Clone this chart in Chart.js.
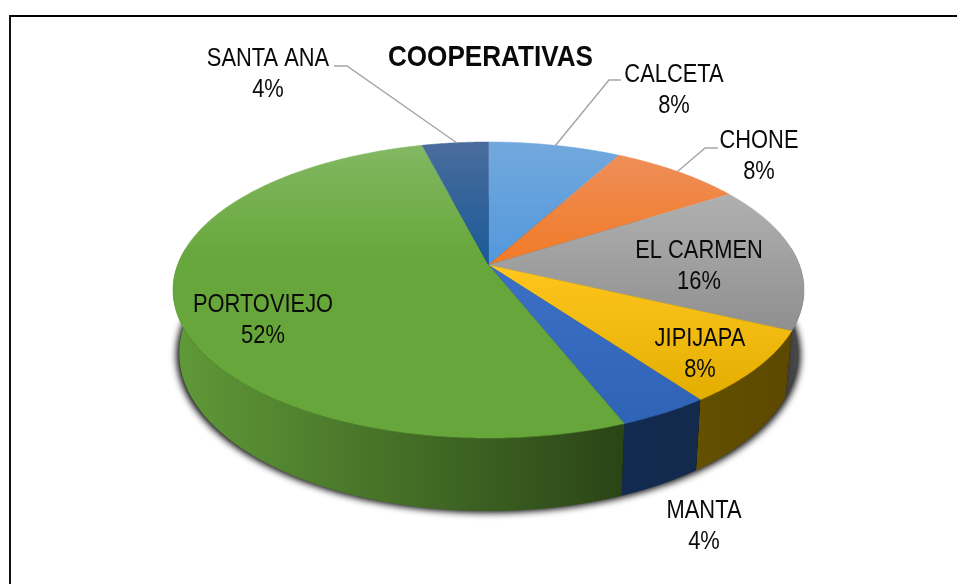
<!DOCTYPE html>
<html><head><meta charset="utf-8">
<style>html,body{margin:0;padding:0;background:#fff;overflow:hidden}#wrap{position:relative;width:957px;height:584px}
#frame{position:absolute;left:9px;top:15px;width:948px;height:569px;box-sizing:border-box;border-left:2px solid #111;border-top:2px solid #000}
canvas{position:absolute;left:0;top:0}</style>
<script src="https://cdn.jsdelivr.net/npm/chart.js@4"></script></head>
<body><div id="wrap"><div id="frame"></div><canvas id="c" width="957" height="584"></canvas></div>
<script>
const categories=['CALCETA','CHONE','EL CARMEN','JIPIJAPA','MANTA','PORTOVIEJO','SANTA ANA'];
const values=[8,8,16,8,4,52,4];
const titleText='COOPERATIVAS';
const faceTop=['#72a8dd','#ee8e58','#b0b0b0','#ffc61e','#3c70c6','#82b862','#4a6c9c'];
const faceBottom=['#5398dc','#f27a26','#8f8f8f','#e2ae00','#2f63b6','#66a63a','#1a5a98'];
const faceStop=[1,1,1,1,1,0.4,1];
const sideLeft=['#2a5a85','#8a4a1a','#3c3c3c','#645000','#132a50','#609a38','#1a3a60'];
const sideRight=['#2a5a85','#8a4a1a','#505050','#5c4800','#132a4c','#2a4416','#1a3a60'];
const labelX=[674,759,699,700,704,263,268];
const labelY=[75.5,141.5,251.5,339.5,511.5,305.5,59.5];
const leaderLines=[[[621,80],[609,80],[555,146]],[[718,148],[705,148],[677,172]],null,null,null,null,[[334,66],[347,66],[457,143]]];
const FONT='"Liberation Sans",Arial,sans-serif';
const TEXT_NARROW=0.875,TITLE_NARROW=0.87,TITLE_CX=490;
const P={x0:488.5,y0:265,A:311,B:143.8,k:0.169};
function rimTop(a){const u=Math.cos(a),v=Math.sin(a),w=1-P.k*v;return[P.x0+P.A*u/w,P.y0+P.B*v/w];}
function rimBot(a){const p=rimTop(a);return[P.x0+0.98*(p[0]-P.x0),p[1]+66+(p[1]-331)*0.0654];}
function rimShadow(a){const p=rimBot(a);return[P.x0+1.008*(p[0]-P.x0)-2000,p[1]+1.5];}
function arcPts(f,a0,a1){const n=Math.max(2,Math.ceil((a1-a0)/0.01)),r=[];for(let i=0;i<=n;i++)r.push(f(a0+(a1-a0)*i/n));return r;}
function trace(ctx,pts,start){pts.forEach((p,i)=>(i||!start)?ctx.lineTo(p[0],p[1]):ctx.moveTo(p[0],p[1]));}
const pie3d={id:'pie3d',
 beforeDraw(chart){const ctx=chart.ctx;ctx.save();ctx.translate(TITLE_CX,0);ctx.scale(TITLE_NARROW,1);ctx.translate(-TITLE_CX,0);},
 beforeDatasetsDraw(chart){chart.ctx.restore();},
 beforeDatasetDraw(chart,args){
  const ctx=chart.ctx,arcs=args.meta.data;
  const a0=-Math.PI/2;
  ctx.save();ctx.shadowColor='rgba(0,0,0,1)';ctx.shadowBlur=7;ctx.shadowOffsetX=2000;ctx.fillStyle='#000';
  ctx.beginPath();trace(ctx,arcPts(rimShadow,a0,a0+2*Math.PI),true);ctx.closePath();ctx.fill();ctx.restore();
  arcs.forEach((el,i)=>{
   const s=el.startAngle,e=el.endAngle,vs=Math.max(s,-0.12),ve=Math.min(e,Math.PI+0.12);
   if(ve<=vs)return;
   const t=arcPts(rimTop,vs,ve),b=arcPts(rimBot,vs,ve).reverse();
   const xs=t.concat(b).map(p=>p[0]),g=ctx.createLinearGradient(Math.max(...xs),0,Math.min(...xs),0);
   g.addColorStop(0,sideRight[i]);
   g.addColorStop(1,sideLeft[i]);
   ctx.fillStyle=g;ctx.beginPath();trace(ctx,t,true);trace(ctx,b,false);ctx.closePath();ctx.fill();
  });
  arcs.forEach((el,i)=>{
   const pts=arcPts(rimTop,el.startAngle,el.endAngle),ys=pts.map(p=>p[1]).concat(P.y0);
   const g=ctx.createLinearGradient(0,Math.min(...ys),0,Math.max(...ys));
   g.addColorStop(0,faceTop[i]);g.addColorStop(faceStop[i],faceBottom[i]);
   ctx.fillStyle=g;ctx.strokeStyle=g;ctx.lineWidth=0.5;ctx.beginPath();ctx.moveTo(P.x0,P.y0);trace(ctx,pts,false);ctx.closePath();ctx.fill();ctx.stroke();
  });
  return false;
 },
 afterDraw(chart){
  const ctx=chart.ctx,tot=values.reduce((a,b)=>a+b,0);
  ctx.save();
  ctx.strokeStyle='#a6a6a6';ctx.lineWidth=1.5;
  leaderLines.forEach(l=>{if(!l)return;ctx.beginPath();l.forEach((p,i)=>i?ctx.lineTo(p[0],p[1]):ctx.moveTo(p[0],p[1]));ctx.stroke();});
  ctx.fillStyle='#0a0a0a';ctx.textAlign='center';ctx.textBaseline='middle';ctx.font='25px '+FONT;
  const put=(s,x,y)=>{ctx.save();ctx.translate(x,y);ctx.scale(TEXT_NARROW,1);ctx.fillText(s,0,0);ctx.restore();};
  categories.forEach((c,i)=>{put(c,labelX[i],labelY[i]);put(Math.round(values[i]/tot*100)+'%',labelX[i],labelY[i]+31);});
  ctx.restore();
 }};
new Chart(document.getElementById('c'),{type:'pie',
 data:{labels:categories,datasets:[{data:values,backgroundColor:faceBottom,borderWidth:0}]},
 options:{responsive:false,animation:false,events:[],layout:{padding:{left:24}},
  plugins:{legend:{display:false},tooltip:{enabled:false},
   title:{display:true,text:titleText,color:'#0a0a0a',fullSize:false,font:{family:FONT,size:30,weight:'bold'},padding:{top:40,bottom:0}}}},
 plugins:[pie3d]});
</script></body></html>
